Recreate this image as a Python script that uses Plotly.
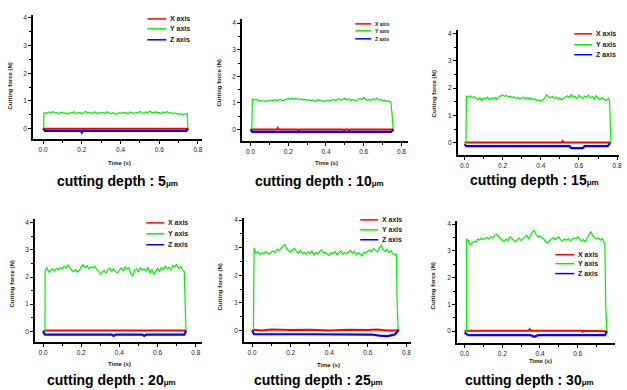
import plotly.graph_objects as go

W, H = 627, 390

# ---------------- data ----------------
DEPTHS = ["5", "10", "15", "20", "25", "30"]
SERIES_NAMES = ["X axis", "Y axis", "Z axis"]
X_TICKS = [0.0, 0.2, 0.4, 0.6, 0.8]
X_TICK_TEXT = ["0.0", "0.2", "0.4", "0.6", "0.8"]
Y_TICKS = [0, 1, 2, 3, 4]

TIME = [0.01, 0.02, 0.03, 0.04, 0.05, 0.06, 0.07, 0.08, 0.09, 0.10,
        0.11, 0.12, 0.13, 0.14, 0.15, 0.16, 0.17, 0.18, 0.19, 0.20,
        0.21, 0.22, 0.23, 0.24, 0.25, 0.26, 0.27, 0.28, 0.29, 0.30,
        0.31, 0.32, 0.33, 0.34, 0.35, 0.36, 0.37, 0.38, 0.39, 0.40,
        0.41, 0.42, 0.43, 0.44, 0.45, 0.46, 0.47, 0.48, 0.49, 0.50,
        0.51, 0.52, 0.53, 0.54, 0.55, 0.56, 0.57, 0.58, 0.59, 0.60,
        0.61, 0.62, 0.63, 0.64, 0.65, 0.66, 0.67, 0.68, 0.69, 0.70,
        0.71, 0.72, 0.73, 0.74]

# Y-axis (green) force, sampled on TIME
FY_5 = [0.58, 0.55, 0.60, 0.57, 0.62, 0.56, 0.59, 0.54, 0.58, 0.60,
        0.55, 0.57, 0.53, 0.58, 0.56, 0.61, 0.55, 0.57, 0.59, 0.54,
        0.58, 0.62, 0.56, 0.59, 0.55, 0.57, 0.60, 0.54, 0.58, 0.56,
        0.59, 0.55, 0.61, 0.57, 0.54, 0.58, 0.56, 0.52, 0.57, 0.55,
        0.59, 0.56, 0.58, 0.54, 0.60, 0.57, 0.55, 0.59, 0.56, 0.62,
        0.58, 0.55, 0.60, 0.57, 0.63, 0.58, 0.56, 0.61, 0.57, 0.59,
        0.55, 0.60, 0.57, 0.62, 0.56, 0.58, 0.54, 0.57, 0.55, 0.52,
        0.54, 0.51, 0.53, 0.55]
FY_10 = [1.15, 1.12, 1.14, 1.08, 1.10, 1.06, 1.09, 1.05, 1.10, 1.07,
         1.11, 1.08, 1.12, 1.09, 1.10, 1.13, 1.08, 1.11, 1.14, 1.17,
         1.15, 1.19, 1.14, 1.18, 1.16, 1.13, 1.15, 1.11, 1.14, 1.10,
         1.12, 1.08, 1.11, 1.06, 1.09, 1.12, 1.07, 1.10, 1.05, 1.08,
         1.11, 1.07, 1.10, 1.13, 1.09, 1.12, 1.16, 1.10, 1.14, 1.18,
         1.12, 1.15, 1.09, 1.13, 1.11, 1.08, 1.14, 1.17, 1.12, 1.20,
         1.15, 1.10, 1.13, 1.09, 1.16, 1.12, 1.18, 1.11, 1.14, 1.08,
         1.10, 1.06, 1.08, 1.05]
FY_15 = [1.70, 1.66, 1.72, 1.64, 1.69, 1.62, 1.58, 1.65, 1.55, 1.63,
         1.60, 1.67, 1.58, 1.64, 1.61, 1.66, 1.59, 1.68, 1.72, 1.75,
         1.70, 1.73, 1.68, 1.71, 1.65, 1.69, 1.62, 1.66, 1.60, 1.64,
         1.67, 1.62, 1.65, 1.60, 1.63, 1.58, 1.61, 1.55, 1.57, 1.53,
         1.58, 1.62, 1.76, 1.68, 1.65, 1.70, 1.63, 1.67, 1.61, 1.64,
         1.58, 1.62, 1.68, 1.72, 1.65, 1.78, 1.66, 1.70, 1.62, 1.74,
         1.68, 1.63, 1.71, 1.66, 1.75, 1.64, 1.69, 1.60, 1.72, 1.65,
         1.58, 1.66, 1.62, 1.55]
FY_20 = [2.20, 2.35, 2.18, 2.25, 2.30, 2.22, 2.32, 2.27, 2.35, 2.30,
         2.40, 2.33, 2.45, 2.36, 2.25, 2.20, 2.28, 2.18, 2.24, 2.38,
         2.45, 2.35, 2.42, 2.30, 2.38, 2.34, 2.40, 2.28, 2.22, 2.10,
         2.18, 2.25, 2.14, 2.28, 2.32, 2.22, 2.30, 2.20, 2.15, 2.26,
         2.34, 2.22, 2.38, 2.28, 2.35, 2.12, 2.05, 2.25, 2.30, 2.18,
         2.34, 2.26, 2.30, 2.22, 2.36, 2.15, 2.28, 2.10, 2.24, 2.32,
         2.20, 2.35, 2.28, 2.40, 2.30, 2.36, 2.25, 2.42, 2.38, 2.46,
         2.32, 2.38, 2.28, 2.20]
FY_25 = [2.98, 2.80, 2.85, 2.75, 2.82, 2.78, 2.86, 2.80, 2.76, 2.84,
         2.88, 2.82, 2.95, 2.90, 2.98, 3.05, 3.12, 2.95, 2.88, 2.84,
         2.92, 2.98, 2.86, 2.80, 2.90, 2.78, 2.84, 2.76, 2.85, 2.80,
         2.88, 2.74, 2.82, 2.78, 2.86, 2.92, 2.80, 2.84, 2.76, 2.72,
         2.82, 2.78, 2.86, 2.74, 2.80, 2.88, 2.76, 2.82, 2.78, 2.84,
         2.90, 2.80, 2.86, 2.74, 2.82, 2.78, 2.70, 2.84, 2.80, 2.88,
         2.92, 2.86, 2.98, 2.90, 2.84, 3.00, 3.08, 2.92, 2.86, 2.94,
         2.82, 2.88, 2.78, 2.74]
FY_30 = [3.45, 3.38, 3.22, 3.30, 3.36, 3.32, 3.44, 3.40, 3.48, 3.42,
         3.46, 3.50, 3.44, 3.52, 3.48, 3.58, 3.62, 3.55, 3.46, 3.40,
         3.36, 3.44, 3.38, 3.52, 3.46, 3.40, 3.34, 3.42, 3.48, 3.38,
         3.44, 3.52, 3.58, 3.45, 3.62, 3.72, 3.76, 3.60, 3.52, 3.56,
         3.48, 3.44, 3.36, 3.30, 3.38, 3.44, 3.50, 3.42, 3.46, 3.52,
         3.40, 3.36, 3.44, 3.40, 3.46, 3.38, 3.42, 3.48, 3.44, 3.52,
         3.46, 3.36, 3.42, 3.34, 3.48, 3.62, 3.72, 3.56, 3.50, 3.44,
         3.48, 3.40, 3.46, 3.30]

# start (rise) and end (fall) samples of the green trace: times, values
FY_START_T = [[0.003, 0.004], [0.007, 0.008], [0.008, 0.009], [0.010, 0.011], [0.007, 0.009], [0.010, 0.011]]
FY_START_V = [[0.0, 0.56], [0.0, 1.12], [0.0, 0.80], [0.0, 2.25], [0.0, 0.90], [0.0, 3.40]]
FY_END_T = [[0.745, 0.748], [0.744, 0.750, 0.756], [0.755, 0.760, 0.763, 0.768],
            [0.740, 0.745, 0.749], [0.748, 0.751, 0.757], [0.744, 0.749, 0.755]]
FY_END_V = [[0.54, 0.0], [1.04, 0.60, 0.0], [1.62, 1.58, 1.00, 0.0],
            [2.15, 0.75, 0.0], [2.76, 1.30, 0.0], [3.25, 0.85, 0.0]]

# X-axis (red) force
FX_T = [
    [0.0, 0.20, 0.40, 0.60, 0.750],
    [0.0, 0.14, 0.145, 0.15, 0.25, 0.255, 0.26, 0.49, 0.495, 0.50, 0.52, 0.525, 0.53, 0.758],
    [0.0, 0.20, 0.51, 0.515, 0.52, 0.765],
    [0.0, 0.01, 0.20, 0.40, 0.60, 0.745, 0.750],
    [0.0, 0.01, 0.05, 0.10, 0.20, 0.30, 0.40, 0.50, 0.60, 0.65, 0.70, 0.75, 0.757],
    [0.0, 0.01, 0.20, 0.34, 0.345, 0.35, 0.62, 0.625, 0.63, 0.745, 0.755],
]
FX_V = [
    [0.0, 0.0, 0.0, 0.0, 0.0],
    [0.0, 0.0, 0.06, 0.0, 0.0, -0.05, 0.0, 0.0, -0.04, 0.0, 0.0, -0.04, 0.0, 0.0],
    [0.01, 0.01, 0.01, 0.07, 0.01, 0.01],
    [0.0, 0.03, 0.03, 0.03, 0.03, 0.03, 0.0],
    [0.0, 0.02, 0.00, 0.03, 0.01, 0.02, 0.00, 0.02, 0.01, 0.03, 0.00, 0.02, 0.0],
    [0.0, 0.02, 0.02, 0.02, 0.07, 0.02, 0.02, -0.02, 0.02, 0.02, 0.0],
]

# Z-axis (blue) force
FZ_T = [
    [0.0, 0.01, 0.195, 0.20, 0.205, 0.74, 0.750],
    [0.0, 0.01, 0.40, 0.745, 0.758],
    [0.0, 0.01, 0.30, 0.55, 0.56, 0.62, 0.63, 0.75, 0.765],
    [0.0, 0.01, 0.36, 0.37, 0.38, 0.52, 0.53, 0.54, 0.74, 0.750],
    [0.0, 0.01, 0.30, 0.62, 0.66, 0.70, 0.72, 0.74, 0.752, 0.760],
    [0.0, 0.01, 0.02, 0.35, 0.37, 0.39, 0.745, 0.755],
]
FZ_V = [
    [0.0, -0.08, -0.08, -0.14, -0.08, -0.08, 0.0],
    [0.0, -0.09, -0.09, -0.09, 0.0],
    [-0.05, -0.12, -0.12, -0.12, -0.19, -0.19, -0.12, -0.12, 0.0],
    [0.0, -0.12, -0.12, -0.17, -0.12, -0.12, -0.17, -0.12, -0.12, 0.03],
    [0.0, -0.14, -0.14, -0.15, -0.19, -0.21, -0.18, -0.15, -0.06, 0.03],
    [-0.05, -0.10, -0.15, -0.15, -0.21, -0.15, -0.15, 0.0],
]

FY_MID = [FY_5, FY_10, FY_15, FY_20, FY_25, FY_30]

# ---------------- layout geometry (pixels) ----------------
# axis boxes: x0, x1, y0 (top), y1 (bottom)
BOX = [(33, 203, 13, 138), (243, 410, 17, 140), (460, 622, 28, 154),
       (35, 203, 218, 342), (245, 413, 217, 342), (459, 618, 220, 343)]
XR = [[-0.053, 0.821], [-0.046, 0.835], [-0.035, 0.81],
      [-0.043, 0.833], [-0.043, 0.824], [-0.041, 0.798]]
YR = [[-0.385, 4.11], [-0.44, 4.16], [-0.45, 4.13],
      [-0.40, 4.14], [-0.43, 4.08], [-0.45, 4.12]]
CAPTION = [(118, 180), (321, 180), (537, 179), (112, 380), (320, 380), (532, 380)]
YTITLE = [(10, 84), (220, 81), (436, 92), (12, 283), (221, 286), (435, 285)]
XTITLE = [(120, 162), (328, 162), None, (120, 364), (330, 365), (543, 361)]
# legend: line x0, line x1, row y's, font size
LEG = [(148, 167, [17, 27, 38], 7), (357, 373, [22, 29, 37], 5), (577, 595, [32, 43, 53], 7),
       (147, 165, [222, 233, 244], 7), (362, 380, [219, 229, 239], 7), (558, 577, [254, 263, 273], 7)]

COLORS = ["#ff0000", "#00ee00", "#0000ff"]
FONT = "Arial, Liberation Sans, sans-serif"


def px(x):
    return x / W


def py(y):
    return 1 - y / H


fig = go.Figure()
layout = dict(width=W, height=H, margin=dict(l=0, r=0, t=0, b=0),
              paper_bgcolor="white", plot_bgcolor="white", showlegend=False,
              font=dict(family=FONT, color="#111"))
annotations = []
shapes = []

for i in range(6):
    s = "" if i == 0 else str(i + 1)
    xa, ya = "x" + s, "y" + s
    gt = FY_START_T[i] + TIME + FY_END_T[i]
    gv = FY_START_V[i] + FY_MID[i] + FY_END_V[i]
    fig.add_trace(go.Scatter(x=FX_T[i], y=FX_V[i], mode="lines", name=SERIES_NAMES[0],
                             line=dict(color=COLORS[0], width=2), xaxis=xa, yaxis=ya))
    fig.add_trace(go.Scatter(x=gt, y=gv, mode="lines", name=SERIES_NAMES[1],
                             line=dict(color=COLORS[1], width=1.2), xaxis=xa, yaxis=ya))
    fig.add_trace(go.Scatter(x=FZ_T[i], y=FZ_V[i], mode="lines", name=SERIES_NAMES[2],
                             line=dict(color=COLORS[2], width=2.2), xaxis=xa, yaxis=ya))

    x0, x1, y0, y1 = BOX[i]
    layout["xaxis" + s] = dict(
        domain=[px(x0), px(x1)], anchor=ya, range=XR[i],
        showline=True, linecolor="black", linewidth=1.5, mirror=False,
        ticks="outside", ticklen=3, tickwidth=1, tickcolor="black",
        tickvals=X_TICKS, ticktext=X_TICK_TEXT,
        minor=dict(tickvals=[0.1, 0.3, 0.5, 0.7], ticks="outside", ticklen=2, tickcolor="black"),
        showgrid=False, zeroline=False,
        tickfont=dict(size=6.5, family=FONT, color="#222"))
    layout["yaxis" + s] = dict(
        domain=[py(y1), py(y0)], anchor=xa, range=YR[i],
        showline=True, linecolor="black", linewidth=1.5, mirror=False,
        ticks="outside", ticklen=3, tickwidth=1, tickcolor="black",
        tickvals=Y_TICKS,
        minor=dict(tickvals=[0.5, 1.5, 2.5, 3.5], ticks="outside", ticklen=2, tickcolor="black"),
        showgrid=False, zeroline=False,
        tickfont=dict(size=6.5, family=FONT, color="#222"))

    cx, cy = CAPTION[i]
    annotations.append(dict(
        x=px(cx), y=py(cy), xref="paper", yref="paper", showarrow=False,
        xanchor="center", yanchor="middle",
        text="<b>cutting depth : " + DEPTHS[i] + "<span style='font-size:8px'>μm</span></b>",
        font=dict(size=14, family=FONT, color="black")))
    tx, ty = YTITLE[i]
    annotations.append(dict(
        x=px(tx), y=py(ty), xref="paper", yref="paper", showarrow=False,
        xanchor="center", yanchor="middle", textangle=-90,
        text="<b>Cutting force (N)</b>", font=dict(size=6, family=FONT, color="#222")))
    if XTITLE[i] is not None:
        tx, ty = XTITLE[i]
        annotations.append(dict(
            x=px(tx), y=py(ty), xref="paper", yref="paper", showarrow=False,
            xanchor="center", yanchor="middle",
            text="<b>Time (s)</b>", font=dict(size=6, family=FONT, color="#222")))
    lx0, lx1, rows, lfs = LEG[i]
    for k in range(3):
        shapes.append(dict(type="line", xref="paper", yref="paper",
                           x0=px(lx0), x1=px(lx1), y0=py(rows[k]), y1=py(rows[k]),
                           line=dict(color=COLORS[k], width=1.5)))
        annotations.append(dict(
            x=px(lx1 + 2), y=py(rows[k]), xref="paper", yref="paper", showarrow=False,
            xanchor="left", yanchor="middle", text="<b>" + SERIES_NAMES[k] + "</b>",
            font=dict(size=lfs, family=FONT, color="#222")))

layout["annotations"] = annotations
layout["shapes"] = shapes
fig.update_layout(**layout)
fig.write_html("out.html", config={"displayModeBar": False},
               post_script="document.body.style.margin='0';document.body.style.padding='0';")
